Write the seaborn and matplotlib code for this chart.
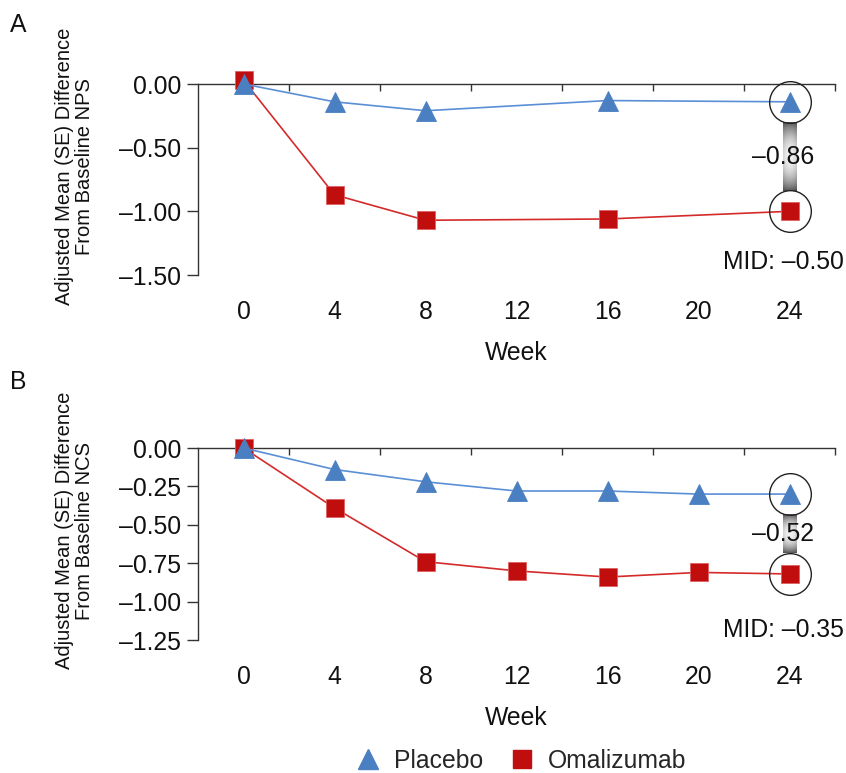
import numpy as np
import pandas as pd
import matplotlib
matplotlib.use("Agg")
import matplotlib.pyplot as plt
from matplotlib.lines import Line2D
import seaborn as sns

# ---------------- data ----------------
weeks_a = [0, 4, 8, 16, 24]
placebo_a = [0.00, -0.14, -0.21, -0.13, -0.14]
omalizumab_a = [0.03, -0.87, -1.07, -1.06, -1.00]

weeks_b = [0, 4, 8, 12, 16, 20, 24]
placebo_b = [0.00, -0.14, -0.22, -0.28, -0.28, -0.30, -0.30]
omalizumab_b = [0.00, -0.39, -0.74, -0.80, -0.84, -0.81, -0.82]

x_ticks = [0, 4, 8, 12, 16, 20, 24]
yticks_a = [0.0, -0.5, -1.0, -1.5]
ytick_labels_a = ["0.00", "\u20130.50", "\u20131.00", "\u20131.50"]
yticks_b = [0.0, -0.25, -0.5, -0.75, -1.0, -1.25]
ytick_labels_b = ["0.00", "\u20130.25", "\u20130.50", "\u20130.75", "\u20131.00", "\u20131.25"]

diff_a = "\u20130.86"
diff_b = "\u20130.52"
mid_a = "MID: \u20130.50"
mid_b = "MID: \u20130.35"
ylabel_a = "Adjusted Mean (SE) Difference\nFrom Baseline NPS"
ylabel_b = "Adjusted Mean (SE) Difference\nFrom Baseline NCS"

# ---------------- style ----------------
sns.set_style("white")
plt.rcParams["font.family"] = ["Liberation Sans", "DejaVu Sans"]

BLUE_M = "#4a7fc1"
BLUE_L = "#5a8fd6"
RED_M = "#c00d0e"
RED_L = "#d42a2a"
SPINE = "#333333"
TXT = "#111111"
FS = 17.8

W, H = 846, 773
fig = plt.figure(figsize=(W / 100, H / 100), dpi=100)


def px_axes(left, top, right, bottom):
    return fig.add_axes([left / W, 1 - bottom / H, (right - left) / W, (bottom - top) / H])


def draw_panel(ax, weeks, plc, oma, yticks, ylabels, ylim_bottom, ylabel, diff_txt):
    df_o = pd.DataFrame({"week": weeks, "value": oma})
    df_p = pd.DataFrame({"week": weeks, "value": plc})
    sns.lineplot(data=df_o, x="week", y="value", ax=ax, color=RED_L, lw=1.2,
                 marker="s", markersize=13.5, markerfacecolor=RED_M,
                 markeredgecolor="#e06060", markeredgewidth=0.6, clip_on=False, zorder=3)
    sns.lineplot(data=df_p, x="week", y="value", ax=ax, color=BLUE_L, lw=1.2,
                 marker="^", markersize=15, markerfacecolor=BLUE_M,
                 markeredgecolor=BLUE_M, markeredgewidth=0.6, clip_on=False, zorder=4)

    ax.set_xlim(-2, 26)
    ax.set_ylim(ylim_bottom, 0)

    for s in ["right", "bottom"]:
        ax.spines[s].set_visible(False)
    for s in ["left", "top"]:
        ax.spines[s].set_color(SPINE)
        ax.spines[s].set_linewidth(1.0)

    ax.set_xticks(x_ticks)
    ax.set_xticklabels([str(t) for t in x_ticks])
    ax.set_xticks([2, 6, 10, 14, 18, 22, 26], minor=True)
    ax.tick_params(axis="x", which="major", bottom=True, top=False, length=0,
                   labelsize=FS, pad=18, labelcolor=TXT)
    ax.tick_params(axis="x", which="minor", bottom=False, top=True, direction="in",
                   length=5, width=1.0, color=SPINE)
    ax.set_yticks(yticks)
    ax.set_yticklabels(ylabels)
    ax.tick_params(axis="y", left=True, direction="out", length=8, width=1.0,
                   color=SPINE, labelsize=FS, pad=4, labelcolor=TXT)
    ax.set_xlabel("Week", fontsize=FS, labelpad=12, color=TXT)
    ax.set_ylabel(ylabel, fontsize=14.5, linespacing=1.05, color=TXT)
    ax.yaxis.set_label_coords(-0.163, 0.57)

    # annotation at week 24
    x_end = weeks[-1]
    yp, yo = plc[-1], oma[-1]
    bbox = ax.get_window_extent()
    upp = (0 - ylim_bottom) / bbox.height  # data units per pixel
    xpp = 28 / bbox.width
    r_px = 20.5
    ax.plot([x_end, x_end], [yp, yo], ls="none", marker="o", markersize=30,
            markerfacecolor="none", markeredgecolor="#222222", markeredgewidth=1.0,
            clip_on=False, zorder=5)
    top = yp - r_px * upp
    bot = yo + r_px * upp
    n = 100
    t = np.linspace(0, 1, n)
    prof = 0.33 + 0.62 * np.sin(np.pi * t) ** 0.8
    xs = np.linspace(-1, 1, 12)
    grad = prof[:, None] * (1 - 0.12 * xs[None, :] ** 2)
    half_w = 7 * xpp
    ax.imshow(grad, cmap="gray", vmin=0, vmax=1, aspect="auto",
              extent=[x_end - half_w, x_end + half_w, bot, top], origin="upper",
              zorder=2, clip_on=False, interpolation="bilinear")
    ax.set_xlim(-2, 26)
    ax.set_ylim(ylim_bottom, 0)
    ax.text(x_end - 0.3, (top + bot) / 2, diff_txt, ha="center", va="center",
            fontsize=FS, color=TXT, zorder=6)
    return ax


axA = px_axes(198, 84, 835, 275)
draw_panel(axA, weeks_a, placebo_a, omalizumab_a, yticks_a, ytick_labels_a, -1.5,
           ylabel_a, diff_a)
fig.text(844 / W, 1 - 262 / H, mid_a, ha="right", va="center", fontsize=FS, color=TXT)

axB = px_axes(198, 448, 835, 640)
draw_panel(axB, weeks_b, placebo_b, omalizumab_b, yticks_b, ytick_labels_b, -1.25,
           ylabel_b, diff_b)
fig.text(844 / W, 1 - 630 / H, mid_b, ha="right", va="center", fontsize=FS, color=TXT)

fig.text(18 / W, 1 - 25 / H, "A", fontsize=FS, ha="center", va="center", color=TXT)
fig.text(18 / W, 1 - 382 / H, "B", fontsize=FS, ha="center", va="center", color=TXT)

handles = [
    Line2D([], [], ls="none", marker="^", markersize=15, markerfacecolor=BLUE_M,
           markeredgecolor=BLUE_M, label="Placebo"),
    Line2D([], [], ls="none", marker="s", markersize=13.5, markerfacecolor=RED_M,
           markeredgecolor=RED_M, label="Omalizumab"),
]
fig.legend(handles=handles, loc="center", bbox_to_anchor=(520 / W, 1 - 761 / H), ncol=2,
           frameon=False, fontsize=FS, handletextpad=0.45, columnspacing=0.95,
           handlelength=1.2)

fig.savefig("out.png", dpi=100)
